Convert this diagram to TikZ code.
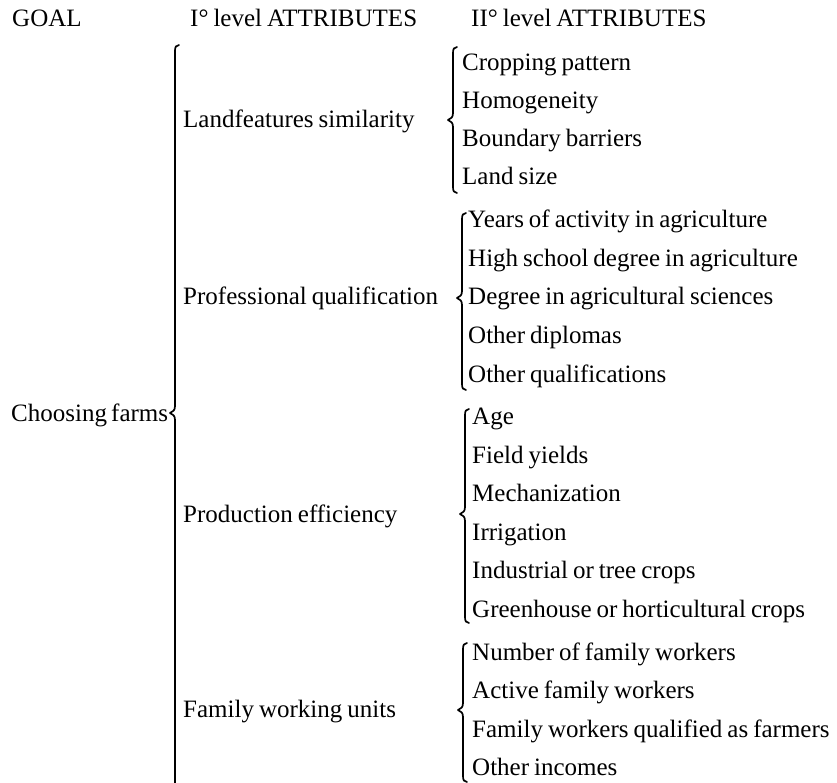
\documentclass[tikz,border=0pt]{standalone}
\usepackage{fontspec}
\setmainfont{Liberation Serif}[WordSpace=0.8]
\begin{document}
% curly brace opening to the right: x, top, tip, bottom (y grows downward)
\newcommand{\farmbrace}[4]{%
  \draw[bracestyle] ({#1+4},{#2}) .. controls ({#1+1},{#2}) and ({#1},{#2+2}) .. ({#1},{#2+6})
    -- ({#1},{#3-7}) .. controls ({#1},{#3-3}) and ({#1-2},{#3-1}) .. ({#1-5},{#3})
    .. controls ({#1-2},{#3+1}) and ({#1},{#3+3}) .. ({#1},{#3+7})
    -- ({#1},{#4-6}) .. controls ({#1},{#4-2}) and ({#1+1},{#4}) .. ({#1+4},{#4});}
\begin{tikzpicture}[x=1pt,y=-1pt,
  bracestyle/.style={line width=1.7pt,line cap=round,line join=round},
  lbl/.style={anchor=base west,inner sep=0pt,font=\fontsize{25pt}{30pt}\selectfont}]
\useasboundingbox (0,0) rectangle (837,783);
\clip (0,0) rectangle (837,783);

% column headings
\node[lbl] (hgoal) at (12,27) {GOAL};
\node[lbl] (hone) at (190,27) {I° level ATTRIBUTES};
\node[lbl] (htwo) at (471,27) {II° level ATTRIBUTES};

% goal and main brace
\node[lbl] (goal) at (11,421) {Choosing\,farms};
\farmbrace{175}{45}{413}{800}

% first level attributes
\node[lbl] (land) at (183,128) {Landfeatures similarity};
\node[lbl] (prof) at (183,305) {Professional qualification};
\node[lbl] (prod) at (183,522) {Production efficiency};
\node[lbl] (fam)  at (183,717) {Family working units};

% second level: land features
\farmbrace{453}{47}{120}{193}
\node[lbl] (l1) at (462,71)  {Cropping pattern};
\node[lbl] (l2) at (462,109) {Homogeneity};
\node[lbl] (l3) at (462,147) {Boundary barriers};
\node[lbl] (l4) at (462,185) {Land size};

% second level: professional qualification
\farmbrace{462}{213}{298}{390}
\node[lbl] (p1) at (468,228) {Years of activity in agriculture};
\node[lbl] (p2) at (468,267) {High school degree in agriculture};
\node[lbl] (p3) at (468,305) {Degree in agricultural sciences};
\node[lbl] (p4) at (468,343) {Other diplomas};
\node[lbl] (p5) at (468,382) {Other qualifications};

% second level: production efficiency
\farmbrace{465}{409}{514}{623}
\node[lbl] (e1) at (472,424) {Age};
\node[lbl] (e2) at (472,463) {Field yields};
\node[lbl] (e3) at (472,501) {Mechanization};
\node[lbl] (e4) at (472,540) {Irrigation};
\node[lbl] (e5) at (472,578) {Industrial or tree crops};
\node[lbl] (e6) at (472,617) {Greenhouse or horticultural crops};

% second level: family working units
\farmbrace{463}{643}{710}{782}
\node[lbl] (f1) at (472,660) {Number of family workers};
\node[lbl] (f2) at (472,698) {Active family workers};
\node[lbl] (f3) at (472,737) {Family workers qualified as farmers};
\node[lbl] (f4) at (472,775) {Other incomes};
\end{tikzpicture}
\end{document}
